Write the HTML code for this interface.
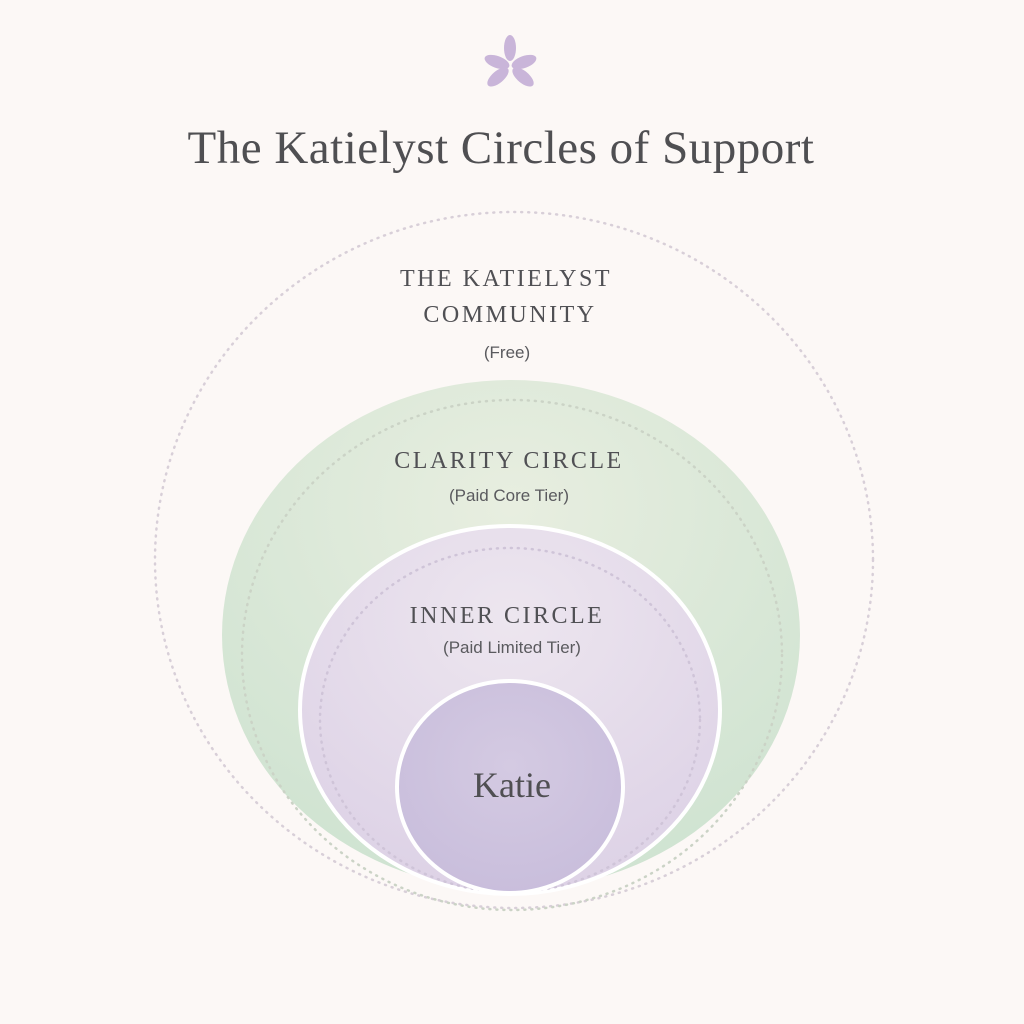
<!DOCTYPE html>
<html><head><meta charset="utf-8"><style>
html,body{margin:0;padding:0;background:#fcf8f6;}
svg{display:block}
text{font-family:"Liberation Serif",serif;fill:#4f4f52;text-anchor:middle}
.cap{font-family:"Liberation Serif",serif;font-size:24px;letter-spacing:2.5px;fill:#505054}
.sub{font-family:"Liberation Sans",sans-serif;font-size:17px;fill:#5a5a5e}
</style></head><body>
<svg width="1024" height="1024" viewBox="0 0 1024 1024">
<defs>
<radialGradient id="g" cx="0.5" cy="0.25" r="0.75"><stop offset="0" stop-color="#e8eee0"/><stop offset="1" stop-color="#cfe3d1"/></radialGradient>
<radialGradient id="p" cx="0.5" cy="0.25" r="0.75"><stop offset="0" stop-color="#ede6ef"/><stop offset="1" stop-color="#ddd2e6"/></radialGradient>
<radialGradient id="k" cx="0.5" cy="0.4" r="0.6"><stop offset="0" stop-color="#d4cae2"/><stop offset="1" stop-color="#c9bedc"/></radialGradient>
</defs>
<g fill="#c9b5d9">
<ellipse cx="510" cy="48" rx="6" ry="13"/>
<ellipse cx="497" cy="62" rx="13" ry="6" transform="rotate(20 497 62)"/>
<ellipse cx="524" cy="62" rx="13" ry="6" transform="rotate(-20 524 62)"/>
<ellipse cx="498" cy="77" rx="13" ry="6" transform="rotate(-40 498 77)"/>
<ellipse cx="523" cy="77" rx="13" ry="6" transform="rotate(40 523 77)"/>
</g>
<text x="501" y="163" font-size="47" letter-spacing="0.5">The Katielyst Circles of Support</text>
<ellipse cx="514" cy="560" rx="359" ry="348" fill="none" stroke="#d8cfd8" stroke-width="2.5" stroke-dasharray="1 6" stroke-linecap="round"/>
<ellipse cx="511" cy="635" rx="289" ry="255" fill="url(#g)"/>
<ellipse cx="512" cy="655" rx="270" ry="255" fill="none" stroke="#cbd3c6" stroke-width="2.5" stroke-dasharray="1 6" stroke-linecap="round"/>
<ellipse cx="510" cy="710" rx="210" ry="184" fill="url(#p)" stroke="#fff" stroke-width="4"/>
<ellipse cx="510" cy="720" rx="190" ry="172" fill="none" stroke="#cfc4d8" stroke-width="2.5" stroke-dasharray="1 6" stroke-linecap="round"/>
<ellipse cx="510" cy="787" rx="113" ry="106" fill="url(#k)" stroke="#fff" stroke-width="4"/>
<text class="cap" x="506" y="286">THE KATIELYST</text>
<text class="cap" x="510" y="322">COMMUNITY</text>
<text class="sub" x="507" y="358">(Free)</text>
<text class="cap" x="509" y="468">CLARITY CIRCLE</text>
<text class="sub" x="509" y="501">(Paid Core Tier)</text>
<text class="cap" x="507" y="623">INNER CIRCLE</text>
<text class="sub" x="512" y="653">(Paid Limited Tier)</text>
<text x="512" y="797" font-size="36">Katie</text>
</svg>
</body></html>
